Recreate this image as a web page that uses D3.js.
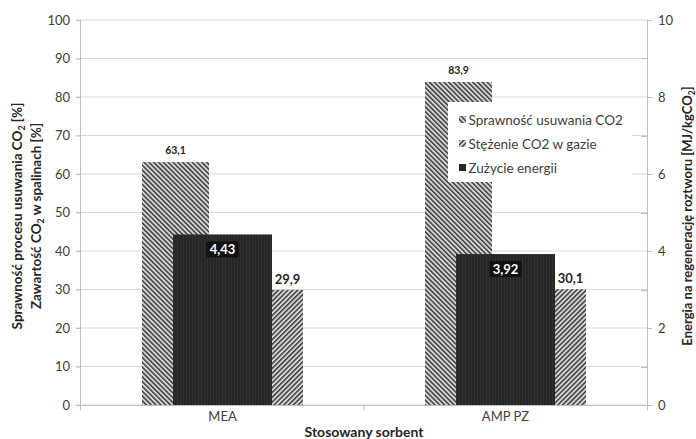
<!DOCTYPE html>
<html>
<head>
<meta charset="utf-8">
<script src="https://cdn.jsdelivr.net/npm/d3@7/dist/d3.min.js"></script>
<style>
  html, body { margin: 0; padding: 0; background: #fff; }
  svg { display: block; font-family: Lato, "Open Sans", sans-serif; }
</style>
</head>
<body>
<svg id="chart" width="696" height="439"></svg>
<script>
// Sorbent types on the x axis
const categories = ["MEA", "AMP PZ"];
// Primary axis series [%]
const removalEfficiency = [63.1, 83.9];   // Sprawność usuwania CO2
const co2Concentration = [29.9, 30.1];    // Stężenie CO2 w gazie
// Secondary axis series [MJ/kgCO2]
const energyUse = [4.43, 3.92];           // Zużycie energii
const leftTicks = [0, 10, 20, 30, 40, 50, 60, 70, 80, 90, 100];
const rightTicks = [0, 2, 4, 6, 8, 10];
const seriesNames = ["Sprawność usuwania CO2", "Stężenie CO2 w gazie", "Zużycie energii"];

const fmt = v => String(v).replace(".", ",");

const svg = d3.select("#chart");
const plot = { left: 81, right: 647, top: 20, bottom: 405 };

const x = d3.scaleBand().domain(categories).range([plot.left, plot.right]).padding(0);
const yL = d3.scaleLinear().domain([0, 100]).range([plot.bottom, plot.top]);
const yR = d3.scaleLinear().domain([0, 10]).range([plot.bottom, plot.top]);

// Hatch patterns
const defs = svg.append("defs");
function hatch(id, angle) {
  const p = defs.append("pattern").attr("id", id).attr("patternUnits", "userSpaceOnUse")
    .attr("width", 3.4).attr("height", 3.4).attr("patternTransform", `rotate(${angle})`);
  p.append("rect").attr("width", 3.4).attr("height", 3.4).attr("fill", "#d6d6d6");
  p.append("rect").attr("width", 1.5).attr("height", 3.4).attr("fill", "#3c3c3c");
}
hatch("hatchA", -45);
hatch("hatchB", 45);
const dark = defs.append("pattern").attr("id", "darkFill").attr("patternUnits", "userSpaceOnUse")
  .attr("width", 3).attr("height", 3);
dark.append("rect").attr("width", 3).attr("height", 3).attr("fill", "#262626");
dark.append("rect").attr("width", 1).attr("height", 3).attr("fill", "#303030");

// Gridlines
svg.append("g").selectAll("line").data(leftTicks).join("line")
  .attr("x1", plot.left - 5).attr("x2", plot.right)
  .attr("y1", d => yL(d)).attr("y2", d => yL(d))
  .attr("stroke", "#d9d9d9").attr("stroke-width", 1);

// Left axis
const axL = svg.append("g").attr("transform", `translate(${plot.left},0)`)
  .call(d3.axisLeft(yL).tickValues(leftTicks).tickSize(5).tickPadding(6));
axL.select(".domain").attr("stroke", "#bfbfbf").attr("d", `M-0.5,${plot.top}V${plot.bottom + 5}`);
axL.selectAll(".tick line").attr("stroke", "#bfbfbf");
axL.selectAll(".tick text").attr("font-size", 13).attr("fill", "#404040").attr("font-family", "Lato, sans-serif");

// Right axis (major ticks outside, minor ticks inside)
const axR = svg.append("g").attr("transform", `translate(${plot.right},0)`)
  .call(d3.axisRight(yR).tickValues(rightTicks).tickSize(5).tickPadding(6));
axR.select(".domain").attr("stroke", "#bfbfbf").attr("d", `M0.5,${plot.top}V${plot.bottom + 5}`);
axR.selectAll(".tick line").attr("stroke", "#bfbfbf");
axR.selectAll(".tick text").attr("font-size", 13).attr("fill", "#404040").attr("font-family", "Lato, sans-serif");
svg.append("g").selectAll("line").data([1, 3, 5, 7, 9]).join("line")
  .attr("x1", plot.right - 6).attr("x2", plot.right)
  .attr("y1", d => Math.round(yR(d)) + 0.5).attr("y2", d => Math.round(yR(d)) + 0.5)
  .attr("stroke", "#bfbfbf");

// Bottom axis
const axB = svg.append("g").attr("transform", `translate(0,${plot.bottom})`)
  .call(d3.axisBottom(x).tickSize(0).tickPadding(7));
axB.select(".domain").attr("stroke", "#bfbfbf");
axB.selectAll(".tick text").attr("font-size", 13).attr("fill", "#404040").attr("font-family", "Lato, sans-serif");
svg.append("line").attr("x1", x("AMP PZ")).attr("x2", x("AMP PZ"))
  .attr("y1", plot.bottom).attr("y2", plot.bottom + 5).attr("stroke", "#bfbfbf");

// Bars
const bw = x.bandwidth();
const cx = d => x(d) + bw / 2;
const primaryW = 67, primaryOff = 13.5, energyW = 99;

const g = svg.append("g");
g.selectAll(".barA").data(categories).join("rect").attr("class", "barA")
  .attr("x", d => cx(d) - primaryOff - primaryW)
  .attr("width", primaryW)
  .attr("y", (d, i) => yL(removalEfficiency[i]))
  .attr("height", (d, i) => yL(0) - yL(removalEfficiency[i]))
  .attr("fill", "url(#hatchA)");
g.selectAll(".barB").data(categories).join("rect").attr("class", "barB")
  .attr("x", d => cx(d) + primaryOff)
  .attr("width", primaryW)
  .attr("y", (d, i) => yL(co2Concentration[i]))
  .attr("height", (d, i) => yL(0) - yL(co2Concentration[i]))
  .attr("fill", "url(#hatchB)");
g.selectAll(".barE").data(categories).join("rect").attr("class", "barE")
  .attr("x", d => cx(d) - energyW / 2)
  .attr("width", energyW)
  .attr("y", (d, i) => yR(energyUse[i]))
  .attr("height", (d, i) => yR(0) - yR(energyUse[i]))
  .attr("fill", "url(#darkFill)");

// Value labels
g.selectAll(".lblA").data(categories).join("text")
  .attr("x", d => cx(d) - primaryOff - primaryW / 2)
  .attr("y", (d, i) => yL(removalEfficiency[i]) - 8)
  .attr("text-anchor", "middle").attr("font-size", 10.5).attr("font-weight", "bold").attr("fill", "#262626")
  .text((d, i) => fmt(removalEfficiency[i]));
g.selectAll(".lblB").data(categories).join("text")
  .attr("x", d => cx(d) + (energyW / 2 + primaryOff + primaryW) / 2)
  .attr("y", (d, i) => yL(co2Concentration[i]) - 6)
  .attr("text-anchor", "middle").attr("font-size", 13).attr("font-weight", "bold").attr("fill", "#262626")
  .text((d, i) => fmt(co2Concentration[i]));
const lblE = g.selectAll(".lblE").data(categories).join("g")
  .attr("transform", (d, i) => `translate(${cx(d)},${yR(energyUse[i]) + 15})`);
lblE.append("rect").attr("x", -16).attr("y", -8).attr("width", 32).attr("height", 16).attr("fill", "#111");
lblE.append("text").attr("y", 4.5).attr("text-anchor", "middle").attr("font-size", 13)
  .attr("font-weight", "bold").attr("fill", "#fff")
  .text((d, i) => fmt(energyUse[i]));

// Legend
const leg = svg.append("g").attr("transform", "translate(448,102)");
leg.append("rect").attr("width", 184).attr("height", 80).attr("fill", "#fff");
const fills = ["url(#hatchA)", "url(#hatchB)", "#262626"];
const items = leg.selectAll(".item").data(seriesNames).join("g")
  .attr("transform", (d, i) => `translate(11,${18 + i * 24})`);
items.append("rect").attr("x", 0).attr("y", -4).attr("width", 7).attr("height", 7)
  .attr("fill", (d, i) => fills[i]);
items.append("text").attr("x", 9.5).attr("y", 4.5).attr("font-size", 13.5).attr("fill", "#404040").text(d => d);

// Axis titles
function title(tx, ty, before, after, size) {
  const t = svg.append("text").attr("transform", `translate(${tx},${ty}) rotate(-90)`)
    .attr("text-anchor", "middle").attr("font-size", size).attr("font-weight", "bold").attr("fill", "#262626");
  t.append("tspan").text(before);
  t.append("tspan").attr("font-size", size * 0.65).attr("dy", 3).text("2");
  t.append("tspan").attr("dy", -3).text(after);
}
title(22, 216, "Sprawność procesu usuwania CO", " [%]", 13.5);
title(41, 216, "Zawartość CO", " w spalinach [%]", 13.5);
title(692, 216, "Energia na regenerację roztworu [MJ/kgCO", "]", 13);

svg.append("text").attr("x", x("AMP PZ")).attr("y", 437).attr("text-anchor", "middle")
  .attr("font-size", 14).attr("font-weight", "bold").attr("fill", "#262626").text("Stosowany sorbent");
</script>
</body>
</html>
